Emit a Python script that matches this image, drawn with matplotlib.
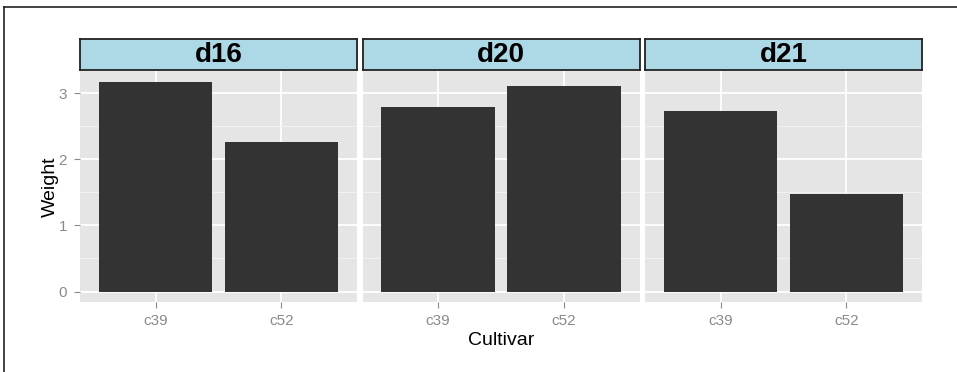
import numpy as np
import matplotlib
matplotlib.use('Agg')
from matplotlib import pyplot as plt
from matplotlib.lines import Line2D

plt.rcParams['font.family'] = ['Liberation Sans', 'DejaVu Sans']

dates = ['d16', 'd20', 'd21']
cultivars = ['c39', 'c52']
weight_c39 = [3.18, 2.80, 2.74]
weight_c52 = [2.26, 3.11, 1.47]

W, H = 957, 372
fig = plt.figure(figsize=(W / 100, H / 100), dpi=100)

# panel boxes in pixels (left, right)
panel_x = [(80, 357), (362.5, 639.5), (645, 922)]
panel_top, panel_bot = 71, 302
strip_top, strip_bot = 39, 70

ymax = max(weight_c39 + weight_c52)
ylo, yhi = -0.05 * ymax, ymax * 1.05

tick_col = '#8a8a8a'

for i, d in enumerate(dates):
    x0, x1 = panel_x[i]
    ax = fig.add_axes([x0 / W, (H - panel_bot) / H, (x1 - x0) / W, (panel_bot - panel_top) / H])
    ax.set_facecolor('#e5e5e5')
    vals = [weight_c39[i], weight_c52[i]]
    pos = np.arange(1, len(cultivars) + 1)
    ax.bar(pos, vals, width=0.9, color='#333333', zorder=3)
    ax.set_xlim(0.4, 2.6)
    ax.set_ylim(ylo, yhi)
    ax.set_xticks(pos)
    ax.set_xticklabels(cultivars)
    ax.set_yticks([0, 1, 2, 3])
    ax.set_yticks([0.5, 1.5, 2.5], minor=True)
    ax.grid(True, which='major', color='white', linewidth=1.3, zorder=1)
    ax.grid(True, which='minor', axis='y', color='#f2f2f2', linewidth=0.7, zorder=1)
    ax.set_axisbelow(True)
    for s in ax.spines.values():
        s.set_visible(False)
    ax.tick_params(axis='both', which='major', length=4.3, width=0.8, color=tick_col,
                   labelcolor=tick_col, labelsize=11, pad=4)
    ax.tick_params(axis='y', which='major', pad=5)
    ax.tick_params(axis='both', which='minor', length=0)
    if i > 0:
        ax.tick_params(axis='y', left=False, labelleft=False)
    else:
        ax.set_ylabel('Weight', fontsize=14, labelpad=0)
    if i == 1:
        ax.set_xlabel('Cultivar', fontsize=14, labelpad=3)

    # strip
    sx = fig.add_axes([x0 / W, (H - strip_bot) / H, (x1 - x0) / W, (strip_bot - strip_top) / H])
    sx.set_facecolor('#add8e6')
    sx.set_xticks([])
    sx.set_yticks([])
    for s in sx.spines.values():
        s.set_color('#222222')
        s.set_linewidth(1.3)
    sx.text(0.5, 0.47, d, transform=sx.transAxes, ha='center', va='center',
            fontsize=20, fontweight='bold')

# frame lines along top and left edge
fig.add_artist(Line2D([4 / W, 1], [1 - 7 / H, 1 - 7 / H], color='#222222', linewidth=1.2))
fig.add_artist(Line2D([4 / W, 4 / W], [0, 1 - 7 / H], color='#222222', linewidth=1.2))

fig.savefig('out.png', dpi=100)
